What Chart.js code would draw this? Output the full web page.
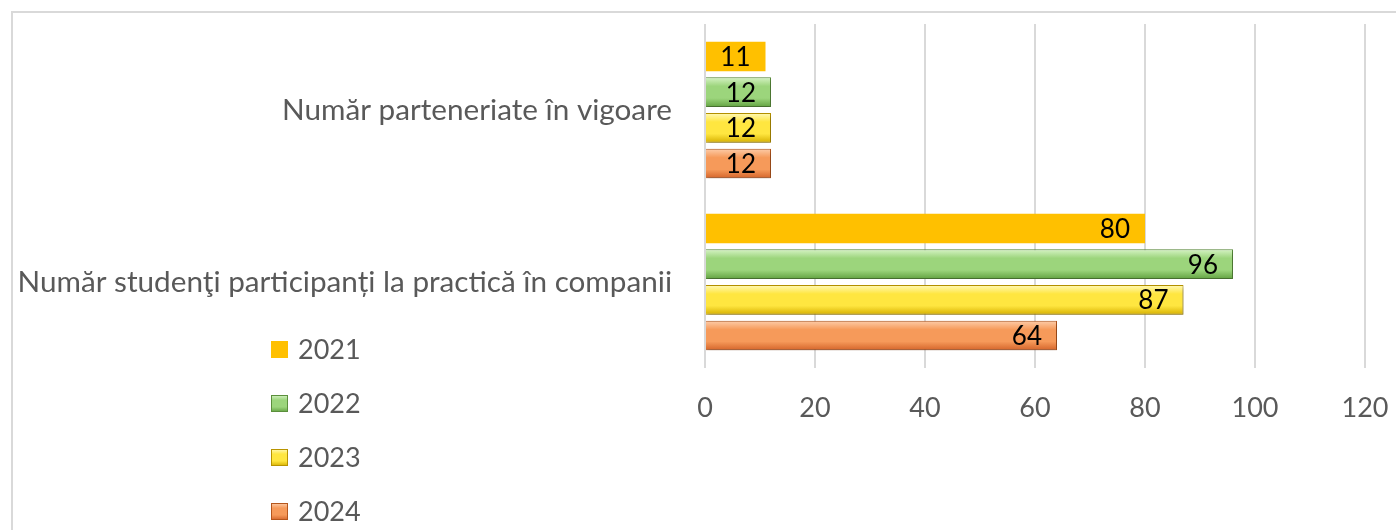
<!DOCTYPE html>
<html>
<head>
<meta charset="utf-8">
<script src="https://cdn.jsdelivr.net/npm/chart.js@4.4.1/dist/chart.umd.min.js"></script>
<style>
  html, body { margin: 0; padding: 0; background: #fff; overflow: hidden; }
  #frame { position: absolute; left: 11px; top: 11px; width: 1500px; height: 600px; border: 2px solid #d9d9d9; }
  #wrap { position: absolute; left: 0; top: 0; width: 1396px; height: 530px; }
</style>
</head>
<body>
<div id="frame"></div>
<div id="wrap"><canvas id="chart"></canvas></div>
<script>
// --- Data ---
const categories = ['Număr parteneriate în vigoare', 'Număr studenţi participanți la practică în companii'];
const years = ['2021', '2022', '2023', '2024'];
const values2021 = [11, 80];
const values2022 = [12, 96];
const values2023 = [12, 87];
const values2024 = [12, 64];
const xMin = 0, xMax = 120, xStep = 20;

// colour sets: [top highlight, middle, bottom, border]
const palette = [
    null,
    ['#d6f3c5', '#9cd57c', '#62a241', '#5b8f3c'],
    ['#fff9b8', '#ffe640', '#d6b000', '#b89400'],
    ['#fdcdaa', '#f69a5a', '#d4642a', '#b5561c']
];
const flat2021 = '#ffc000';
const textGrey = '#595959';
const font = 'Lato';

function bevel(ctx, top, height, cols) {
    const g = ctx.createLinearGradient(0, top, 0, top + height);
    g.addColorStop(0, cols[0]);
    g.addColorStop(0.3, cols[1]);
    g.addColorStop(0.7, cols[1]);
    g.addColorStop(1, cols[2]);
    return g;
}

function barFill(dsIndex) {
    return context => {
        const cols = palette[dsIndex];
        if (!cols) return flat2021;
        const el = context.element;
        if (!el || !el.height) return cols[1];
        return bevel(context.chart.ctx, el.y - el.height / 2, el.height, cols);
    };
}

const valueLabels = {
    id: 'valueLabels',
    afterDatasetsDraw(chart) {
        const ctx = chart.ctx;
        ctx.save();
        ctx.font = '26px ' + font;
        ctx.fillStyle = '#000';
        ctx.textAlign = 'right';
        ctx.textBaseline = 'middle';
        chart.data.datasets.forEach((ds, i) => {
            chart.getDatasetMeta(i).data.forEach((el, j) => {
                ctx.fillText(ds.data[j], el.x - 15, el.y + 1);
            });
        });
        ctx.restore();
    }
};

const barShadow = {
    id: 'barShadow',
    beforeDatasetDraw(chart, args) {
        const ctx = chart.ctx;
        ctx.save();
        if (args.index > 0) {
            ctx.shadowColor = 'rgba(0,0,0,0.3)';
            ctx.shadowBlur = 4;
            ctx.shadowOffsetX = 1;
            ctx.shadowOffsetY = 2;
        }
    },
    afterDatasetDraw(chart) {
        chart.ctx.restore();
    }
};

const sideLegend = {
    id: 'sideLegend',
    afterDraw(chart) {
        const ctx = chart.ctx;
        ctx.save();
        ctx.font = '27px ' + font;
        ctx.textBaseline = 'middle';
        chart.data.datasets.forEach((ds, i) => {
            const cy = 349 + i * 54;
            const bx = 271, by = cy - 8, size = 17;
            const cols = palette[i];
            if (cols) {
                ctx.fillStyle = bevel(ctx, by, size, cols);
                ctx.fillRect(bx, by, size, size);
                ctx.strokeStyle = cols[3];
                ctx.lineWidth = 1;
                ctx.strokeRect(bx + 0.5, by + 0.5, size - 1, size - 1);
            } else {
                ctx.fillStyle = flat2021;
                ctx.fillRect(bx, by, size, size);
            }
            ctx.fillStyle = textGrey;
            ctx.fillText(ds.label, 298, cy + 1);
        });
        ctx.restore();
    }
};

const seriesValues = [values2021, values2022, values2023, values2024];

const chart = new Chart(document.getElementById('chart'), {
    type: 'bar',
    data: {
        labels: categories,
        datasets: years.map((y, i) => ({
            label: y,
            data: seriesValues[i],
            backgroundColor: barFill(i),
            borderColor: palette[i] ? palette[i][3] : flat2021,
            borderWidth: palette[i] ? 1 : 0,
            categoryPercentage: 0.83,
            barPercentage: 0.83
        }))
    },
    options: {
        indexAxis: 'y',
        responsive: true,
        maintainAspectRatio: false,
        animation: false,
        layout: { padding: { top: 24, right: 31, bottom: 102, left: 0 } },
        plugins: {
            legend: { display: false },
            tooltip: { enabled: false }
        },
        scales: {
            x: {
                min: xMin,
                max: xMax,
                ticks: { stepSize: xStep, color: textGrey, font: { family: font, size: 27 }, padding: 24 },
                grid: { color: '#d9d9d9', lineWidth: 2, drawTicks: false },
                border: { display: false },
                afterFit: s => { s.height = 60; s.paddingLeft = 0; s.paddingRight = 0; }
            },
            y: {
                ticks: { color: textGrey, font: { family: font, size: 29.7 }, padding: 33 },
                grid: { display: false, drawTicks: false },
                border: { display: false },
                afterFit: s => { s.width = 705; s.paddingTop = 0; s.paddingBottom = 0; }
            }
        }
    },
    plugins: [barShadow, valueLabels, sideLegend]
});
chart.update('none');
</script>
</body>
</html>
